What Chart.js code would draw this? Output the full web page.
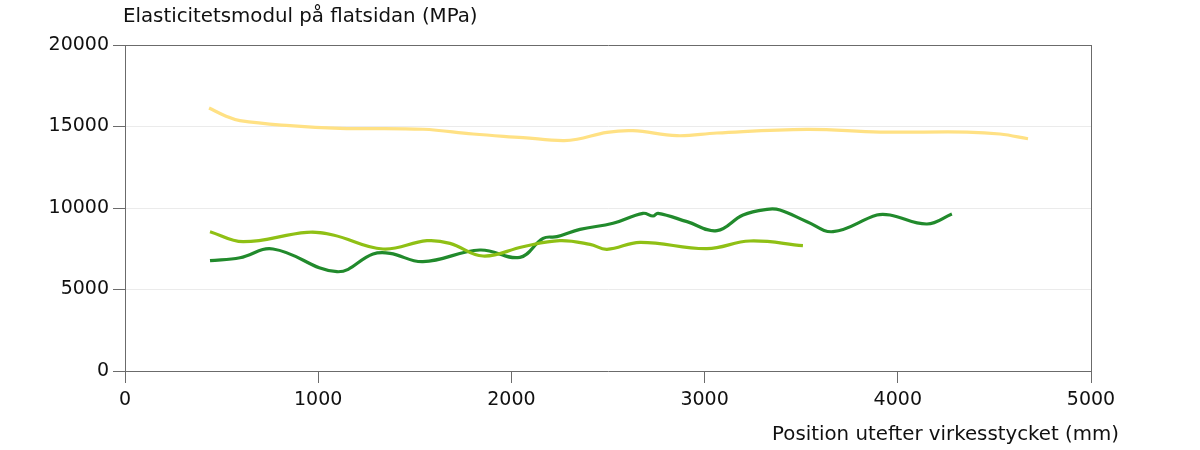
<!DOCTYPE html>
<html>
<head>
<meta charset="utf-8">
<script src="https://cdn.jsdelivr.net/npm/chart.js@4/dist/chart.umd.min.js"></script>
<style>
  html, body { margin: 0; padding: 0; background: #fff; }
  #wrap { width: 1200px; height: 450px; position: relative; }
</style>
</head>
<body>
<div id="wrap"><canvas id="myChart" width="1200" height="450"></canvas></div>
<script>
// axes
var xTicks = [0, 1000, 2000, 3000, 4000, 5000];
var yTicks = [0, 5000, 10000, 15000, 20000];
var yTitle = "Elasticitetsmodul på flatsidan (MPa)";
var xTitle = "Position utefter virkesstycket (mm)";

// gul kurva
var posGul = [435, 520, 595, 854, 1113, 1542, 1801, 2060, 2267, 2340, 2495, 2629, 2857, 3064, 3530, 3908, 4358, 4529, 4674];
var valGul = [16135, 15650, 15356, 15050, 14890, 14830, 14540, 14315, 14130, 14215, 14640, 14745, 14435, 14600, 14825, 14660, 14660, 14540, 14250];

// ljusgrön kurva
var posLjus = [440, 611, 942, 1077, 1335, 1563, 1682, 1853, 2060, 2250, 2407, 2495, 2666, 3012, 3235, 3509];
var valLjus = [8546, 7933, 8509, 8344, 7485, 7994, 7832, 7055, 7626, 8000, 7771, 7464, 7893, 7505, 7975, 7689];

// mörkgrön kurva
var posMork = [440, 595, 766, 1097, 1284, 1372, 1542, 1837, 2044, 2164, 2236, 2355, 2526, 2681, 2733, 2759, 2909, 3064, 3199, 3323, 3390, 3530, 3665, 3892, 3960, 4151, 4280];
var valMork = [6767, 6951, 7485, 6092, 7178, 7219, 6706, 7423, 6975, 8140, 8242, 8690, 9060, 9673, 9509, 9673, 9162, 8610, 9570, 9918, 9877, 9162, 8548, 9570, 9570, 9018, 9632];

function pts(xs, ys) {
	return xs.map(function (x, i) { return { x: x, y: ys[i] }; });
}

var axisColor = '#6b6b6b';
var gridColor = '#ebebeb';
var fontFam = "'DejaVu Sans', Verdana, sans-serif";

// titlar ritas som text på canvas
var titles = {
	id: 'titles',
	afterDraw: function (chart) {
		var c = chart.ctx;
		c.save();
		c.fillStyle = '#111';
		c.font = '19.8px ' + fontFam;
		c.textBaseline = 'middle';
		c.textAlign = 'left';
		c.fillText(yTitle, 123, 17);
		c.textAlign = 'right';
		c.fillText(xTitle, 1119, 435);
		c.restore();
	}
};

var ctx = document.getElementById("myChart").getContext("2d");
var myChart = new Chart(ctx, {
	type: 'scatter',
	data: {
		datasets: [{
			data: pts(posGul, valGul),
			borderColor: '#ffe184',
			borderWidth: 3.2,
			showLine: true,
			pointRadius: 0,
			tension: 0.4
		}, {
			data: pts(posLjus, valLjus),
			borderColor: '#8fc015',
			borderWidth: 3.2,
			showLine: true,
			pointRadius: 0,
			tension: 0.4
		}, {
			data: pts(posMork, valMork),
			borderColor: '#218a2c',
			borderWidth: 3.2,
			showLine: true,
			pointRadius: 0,
			tension: 0.4
		}]
	},
	options: {
		responsive: false,
		animation: false,
		layout: { padding: { left: 0, right: 109, top: 45, bottom: 0 } },
		plugins: {
			legend: { display: false },
			tooltip: { enabled: false }
		},
		scales: {
			x: {
				type: 'linear',
				min: 0,
				max: 5000,
				afterFit: function (s) { s.height = 79; },
				afterBuildTicks: function (s) { s.ticks = xTicks.map(function (v) { return { value: v }; }); },
				grid: {
					color: function (c) { return c.tick && c.tick.value === 5000 ? axisColor : 'rgba(0,0,0,0)'; },
					tickColor: axisColor,
					tickLength: 12,
					lineWidth: 1
				},
				border: { color: axisColor, width: 1 },
				ticks: {
					color: '#111',
					font: { size: 19, family: fontFam },
					padding: 6,
					maxRotation: 0,
					callback: function (value) { return String(value); }
				}
			},
			y: {
				type: 'linear',
				min: 0,
				max: 20000,
				afterFit: function (s) { s.width = 125; },
				afterBuildTicks: function (s) { s.ticks = yTicks.map(function (v) { return { value: v }; }); },
				grid: {
					color: function (c) {
						if (!c.tick) return gridColor;
						if (c.tick.value === 20000) return axisColor;
						if (c.tick.value === 0) return 'rgba(0,0,0,0)';
						return gridColor;
					},
					tickColor: axisColor,
					tickLength: 12,
					lineWidth: 1
				},
				border: { color: axisColor, width: 1 },
				ticks: {
					color: '#111',
					font: { size: 19, family: fontFam },
					padding: 4,
					callback: function (value) { return String(value); }
				}
			}
		}
	},
	plugins: [titles]
});
</script>
</body>
</html>
